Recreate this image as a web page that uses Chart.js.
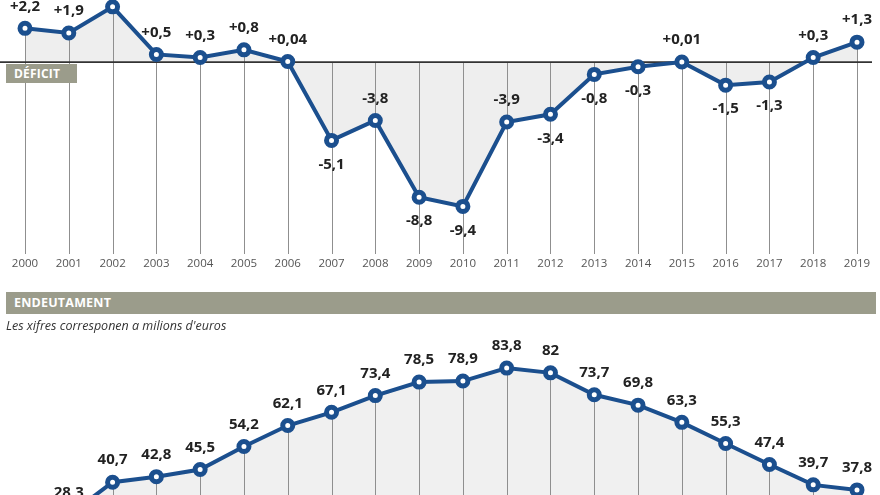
<!DOCTYPE html>
<html>
<head>
<meta charset="utf-8">
<script src="https://cdn.jsdelivr.net/npm/chart.js@4.4.1/dist/chart.umd.min.js"></script>
<style>
  html, body { margin: 0; padding: 0; background: #fff; overflow: hidden; width: 880px; height: 495px; }
  body { position: relative; font-family: 'Open Sans', sans-serif; }
  canvas { position: absolute; left: 0; }
  #deficitChart { top: -40px; }
  #debtChart { top: 330px; }
  .tag { position: absolute; background: #9b9c8b; color: #fff; font-weight: 700; font-size: 12.5px; letter-spacing: 0.2px; }
  #deficitTag { left: 6px; top: 64px; width: 71px; height: 19px; line-height: 19px; text-indent: 8px; font-size: 12px; }
  #debtTag { left: 6px; top: 292px; width: 870px; height: 22px; line-height: 22px; text-indent: 8px; }
  #note { position: absolute; left: 6px; top: 317px; font-size: 12.5px; font-style: italic; color: #333; }
</style>
</head>
<body>
<canvas id="deficitChart" width="880" height="320"></canvas>
<canvas id="debtChart" width="880" height="270"></canvas>
<div id="deficitTag" class="tag">DÉFICIT</div>
<div id="debtTag" class="tag">ENDEUTAMENT</div>
<div id="note">Les xifres corresponen a milions d'euros</div>
<script>
const years = ['2000','2001','2002','2003','2004','2005','2006','2007','2008','2009',
               '2010','2011','2012','2013','2014','2015','2016','2017','2018','2019'];
// deficit / surplus (2002 label is cut off in the original, value estimated)
const deficit = [2.2, 1.9, 3.6, 0.5, 0.3, 0.8, 0.04, -5.1, -3.8, -8.8,
                 -9.4, -3.9, -3.4, -0.8, -0.3, 0.01, -1.5, -1.3, 0.3, 1.3];
// debt, milions d'euros (2000 falls outside the picture, estimated)
const debt = [24, 28.3, 40.7, 42.8, 45.5, 54.2, 62.1, 67.1, 73.4, 78.5,
              78.9, 83.8, 82, 73.7, 69.8, 63.3, 55.3, 47.4, 39.7, 37.8];
// which deficit labels sit under their point
const deficitBelow = [7, 9, 10, 12, 13, 14, 16, 17];

const blue = '#1b4f8e';
Chart.defaults.font.family = "'Open Sans', sans-serif";

function fmt(v, signed) {
  const s = String(v).replace('.', ',');
  return (signed && v > 0 ? '+' : '') + s;
}

function dropLines(withZero) {
  return {
    id: 'dropLines',
    beforeDatasetsDraw(chart) {
      const ctx = chart.ctx;
      const y = chart.scales.y;
      const area = chart.chartArea;
      const meta = chart.getDatasetMeta(0);
      const zeroY = y.getPixelForValue(0);
      ctx.save();
      ctx.strokeStyle = '#8f8f8f';
      ctx.lineWidth = 1;
      meta.data.forEach(pt => {
        const top = withZero ? Math.min(pt.y, zeroY) : pt.y;
        ctx.beginPath();
        ctx.moveTo(Math.round(pt.x) + 0.5, top);
        ctx.lineTo(Math.round(pt.x) + 0.5, area.bottom);
        ctx.stroke();
      });
      if (withZero) {
        ctx.strokeStyle = '#333';
        ctx.lineWidth = 1.6;
        ctx.beginPath();
        ctx.moveTo(0, zeroY);
        ctx.lineTo(872, zeroY);
        ctx.stroke();
      }
      ctx.restore();
    }
  };
}

function valueLabels(signed, below) {
  return {
    id: 'valueLabels',
    afterDatasetsDraw(chart) {
      const ctx = chart.ctx;
      const meta = chart.getDatasetMeta(0);
      const data = chart.data.datasets[0].data;
      ctx.save();
      ctx.font = "700 15px 'Open Sans', sans-serif";
      ctx.fillStyle = '#222';
      ctx.textAlign = 'center';
      ctx.textBaseline = 'middle';
      meta.data.forEach((pt, i) => {
        const dy = below.includes(i) ? 24 : -22;
        ctx.fillText(fmt(data[i], signed), pt.x, pt.y + dy);
      });
      ctx.restore();
    }
  };
}

function lineDataset(values, fillTarget) {
  return {
    data: values,
    borderColor: blue,
    borderWidth: 4,
    backgroundColor: '#eeeeee',
    fill: fillTarget,
    pointRadius: 5,
    pointBorderWidth: 5,
    pointBackgroundColor: '#fff',
    pointBorderColor: blue,
    tension: 0,
    clip: false
  };
}

new Chart(document.getElementById('deficitChart'), {
  type: 'line',
  data: { labels: years, datasets: [lineDataset(deficit, 'origin')] },
  options: {
    responsive: false,
    animation: false,
    layout: { padding: { left: 25, right: 23, top: 9, bottom: 0 } },
    plugins: { legend: { display: false }, tooltip: { enabled: false }, filler: { drawTime: 'beforeDatasetsDraw' } },
    scales: {
      x: {
        offset: false,
        grid: { display: false, drawTicks: false },
        border: { display: false },
        ticks: { color: '#555', font: { size: 11.5 }, padding: 3, maxRotation: 0, autoSkip: false },
        afterFit(scale) { scale.height = 26; }
      },
      y: { display: false, min: -12.5, max: 6 }
    }
  },
  plugins: [dropLines(true), valueLabels(true, deficitBelow)]
});

new Chart(document.getElementById('debtChart'), {
  type: 'line',
  data: { labels: years, datasets: [Object.assign(lineDataset(debt, 'start'), { backgroundColor: '#f0f0f0' })] },
  options: {
    responsive: false,
    animation: false,
    layout: { padding: { left: 25, right: 23, top: 10, bottom: 5 } },
    plugins: { legend: { display: false }, tooltip: { enabled: false }, filler: { drawTime: 'beforeDatasetsDraw' } },
    scales: {
      x: { display: false, offset: false },
      y: { display: false, min: 0, max: 94.4 }
    }
  },
  plugins: [dropLines(false), valueLabels(false, [])]
});
</script>
</body>
</html>
